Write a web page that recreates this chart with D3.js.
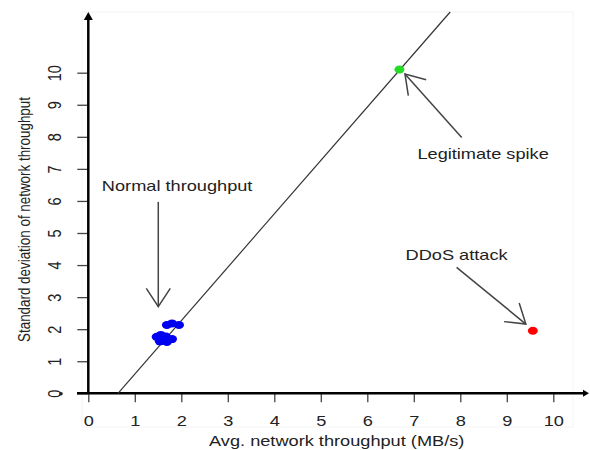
<!DOCTYPE html>
<html>
<head>
<meta charset="utf-8">
<script src="https://cdn.jsdelivr.net/npm/d3@7"></script>
<style>
  body { margin: 0; background: #fff; }
  text { font-family: "Liberation Sans", Arial, sans-serif; }
</style>
</head>
<body>
<div id="chart"></div>
<script>
// values
const xTicks = [0, 1, 2, 3, 4, 5, 6, 7, 8, 9, 10];
const yTicks = [0, 1, 2, 3, 4, 5, 6, 7, 8, 9, 10];

const normalX = [1.69, 1.80, 1.95, 1.47, 1.56, 1.67, 1.80, 1.54, 1.69];
const normalY = [2.13, 2.18, 2.13, 1.76, 1.82, 1.77, 1.69, 1.62, 1.60];
const spikeX = [6.69];
const spikeY = [10.1];
const ddosX = [9.56];
const ddosY = [1.95];

// threshold line  y = slope * x + intercept
const lineSlope = 1.665;
const lineIntercept = -1.064;

// annotations (data units)
const annLabels = ["Normal throughput", "Legitimate spike", "DDoS attack"];
const annTextX = [1.91, 8.49, 7.92];
const annTextY = [6.31, 7.32, 4.16];
const annFromX = [1.505, 8.03, 7.92];
const annFromY = [5.97, 7.98, 3.93];
const annToX = [1.505, 6.81, 9.41];
const annToY = [2.70, 9.96, 2.16];

const W = 590, H = 450;
const stretch = 1.3; // the picture is wider than tall

const svg = d3.select("#chart").append("svg")
  .attr("width", W)
  .attr("height", H);

const x = d3.scaleLinear().domain([0, 10]).range([88.3, 553.3]);
const y = d3.scaleLinear().domain([0, 10]).range([393.3, 72.7]);

// faint frame of the original figure
svg.append("rect")
  .attr("x", 82).attr("y", 12)
  .attr("width", 491).attr("height", 415)
  .attr("fill", "none")
  .attr("stroke", "#f4f4f4");

// x axis ticks and labels
const gx = svg.append("g")
  .attr("transform", "translate(0," + y(0) + ")")
  .call(d3.axisBottom(x).tickValues(xTicks).tickSize(9).tickSizeOuter(0).tickPadding(0));
gx.select(".domain").remove();
gx.selectAll(".tick line").attr("stroke", "#444").attr("stroke-width", 1.3);
gx.selectAll(".tick text")
  .attr("y", 33)
  .attr("dy", null)
  .attr("transform", "scale(" + stretch + ",1)")
  .attr("font-size", 14)
  .attr("fill", "#222");

// y axis ticks and labels (rotated)
const gy = svg.append("g")
  .attr("transform", "translate(" + x(0) + ",0)")
  .call(d3.axisLeft(y).tickValues(yTicks).tickSize(11).tickSizeOuter(0));
gy.select(".domain").remove();
gy.selectAll(".tick line").attr("stroke", "#444").attr("stroke-width", 1.3);
gy.selectAll(".tick text")
  .attr("x", null)
  .attr("dy", null)
  .attr("text-anchor", "middle")
  .attr("transform", "translate(-27.5,0) scale(" + stretch + ",1) rotate(-90)")
  .attr("font-size", 14.5)
  .attr("fill", "#222");

// main axis lines with arrow tips
svg.append("line")
  .attr("x1", 77).attr("x2", 584)
  .attr("y1", y(0)).attr("y2", y(0))
  .attr("stroke", "#000").attr("stroke-width", 2.5);
svg.append("path")
  .attr("d", "M589," + y(0) + " l-6,-3.5 l0,7 z")
  .attr("fill", "#000");
svg.append("circle")
  .attr("cx", 61).attr("cy", y(0) + 0.5).attr("r", 1.8)
  .attr("fill", "#222");

svg.append("line")
  .attr("x1", x(0)).attr("x2", x(0))
  .attr("y1", y(0)).attr("y2", 19)
  .attr("stroke", "#000").attr("stroke-width", 2.5);
svg.append("path")
  .attr("d", "M" + x(0) + ",12 l-4.5,8 l9,0 z")
  .attr("fill", "#000");

// axis titles
svg.append("g")
  .attr("transform", "translate(" + 336.7 + ",446) scale(" + stretch + ",1)")
  .append("text")
  .attr("text-anchor", "middle")
  .attr("font-size", 14)
  .attr("fill", "#222")
  .text("Avg. network throughput (MB/s)");

svg.append("g")
  .attr("transform", "translate(29.5,219.5) scale(" + stretch + ",1) rotate(-90)")
  .append("text")
  .attr("text-anchor", "middle")
  .attr("font-size", 13.4)
  .attr("fill", "#222")
  .text("Standard deviation of network throughput");

// threshold line, from the x axis to the top of the figure
const yTop = y.invert(12);
svg.append("line")
  .attr("x1", x((0 - lineIntercept) / lineSlope))
  .attr("y1", y(0))
  .attr("x2", x((yTop - lineIntercept) / lineSlope))
  .attr("y2", y(yTop))
  .attr("stroke", "#333")
  .attr("stroke-width", 1.2);

// points
function drawPoints(xs, ys, color) {
  svg.append("g").selectAll("ellipse")
    .data(xs.map((d, i) => [d, ys[i]]))
    .enter()
    .append("ellipse")
    .attr("cx", d => x(d[0]))
    .attr("cy", d => y(d[1]))
    .attr("rx", 5)
    .attr("ry", 4)
    .attr("fill", color);
}
drawPoints(normalX, normalY, "#0000f0");
drawPoints(spikeX, spikeY, "#22dd22");
drawPoints(ddosX, ddosY, "#ff0000");

// annotations with arrows
const headLen = 22, headAng = 33 * Math.PI / 180;
annLabels.forEach((label, i) => {
  const x1 = x(annFromX[i]), y1 = y(annFromY[i]);
  const x2 = x(annToX[i]), y2 = y(annToY[i]);
  const a = Math.atan2(y2 - y1, x2 - x1);
  const g = svg.append("g")
    .attr("stroke", "#444")
    .attr("stroke-width", 1.5)
    .attr("fill", "none");
  g.append("line")
    .attr("x1", x1).attr("y1", y1)
    .attr("x2", x2).attr("y2", y2);
  g.append("path")
    .attr("d", "M" + (x2 - headLen * Math.cos(a - headAng)) + "," + (y2 - headLen * Math.sin(a - headAng)) +
      " L" + x2 + "," + y2 +
      " L" + (x2 - headLen * Math.cos(a + headAng)) + "," + (y2 - headLen * Math.sin(a + headAng)));

  svg.append("g")
    .attr("transform", "translate(" + x(annTextX[i]) + "," + y(annTextY[i]) + ") scale(" + stretch + ",1)")
    .append("text")
    .attr("text-anchor", "middle")
    .attr("font-size", 14)
    .attr("fill", "#222")
    .text(label);
});
</script>
</body>
</html>
